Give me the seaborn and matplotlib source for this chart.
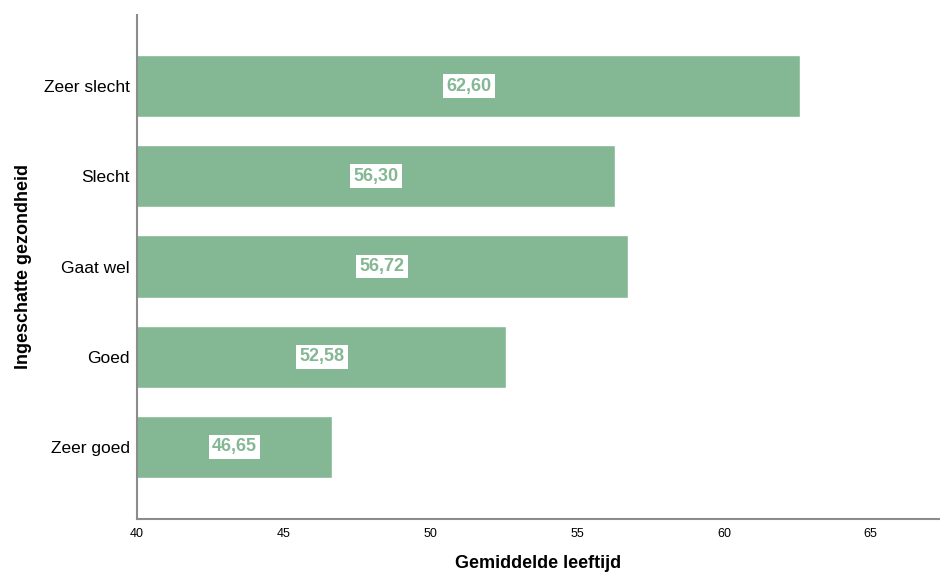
import pandas as pd
import matplotlib
matplotlib.use("Agg")
import matplotlib.pyplot as plt
import seaborn as sns

# Data
categories = ["Zeer slecht", "Slecht", "Gaat wel", "Goed", "Zeer goed"]
mean_age = [62.60, 56.30, 56.72, 52.58, 46.65]
x_ticks = [40, 45, 50, 55, 60, 65]

BAR_COLOR = "#84b793"

df = pd.DataFrame({"Gezondheid": categories, "Leeftijd": mean_age})

sns.set_style("white")
plt.rcParams["font.family"] = ["Liberation Sans", "DejaVu Sans"]
plt.rcParams["text.color"] = "black"
plt.rcParams["xtick.color"] = "black"
plt.rcParams["ytick.color"] = "black"
plt.rcParams["axes.labelcolor"] = "black"

fig = plt.figure(figsize=(9.4, 5.74), dpi=100)
ax = fig.add_axes([0.1457, 0.0958, 0.8543, 0.8781])

sns.barplot(data=df, x="Leeftijd", y="Gezondheid", order=categories,
            color=BAR_COLOR, width=0.69, saturation=1, ax=ax)

ax.set_xlim(40, 67.36)
ax.set_ylim(4.8, -0.79)
ax.set_xticks(x_ticks)
ax.set_xticklabels([str(t) for t in x_ticks], fontsize=9)
ax.tick_params(axis="x", length=0, pad=6.5)
ax.tick_params(axis="y", length=0, pad=5, labelsize=12.5)

ax.set_xlabel("Gemiddelde leeftijd", fontsize=13, fontweight="bold", labelpad=11)
ax.set_ylabel("Ingeschatte gezondheid", fontsize=13, fontweight="bold", labelpad=9)

for side in ["top", "right"]:
    ax.spines[side].set_visible(False)
for side in ["left", "bottom"]:
    ax.spines[side].set_color("#8c8c8c")
    ax.spines[side].set_linewidth(1.5)

# value labels centered on each bar
for i, v in enumerate(mean_age):
    label = f"{v:.2f}".replace(".", ",")
    ax.text((40 + v) / 2, i, label, ha="center", va="center",
            fontsize=13, fontweight="bold", color=BAR_COLOR,
            bbox=dict(facecolor="white", edgecolor="none", pad=2.5))

fig.savefig("out.png", dpi=100)
